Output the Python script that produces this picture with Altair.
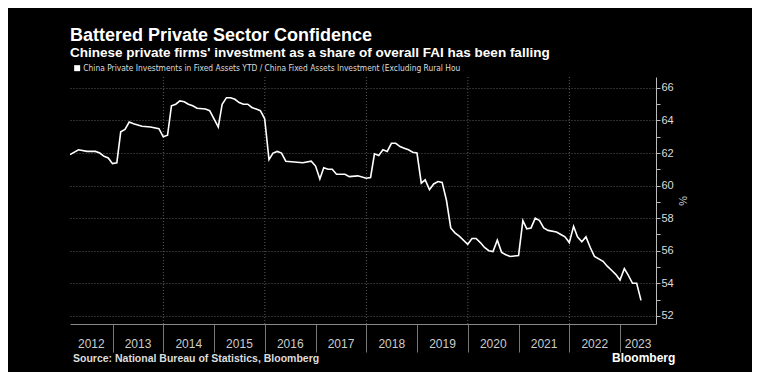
import altair as alt
import pandas as pd

# ---------------- data ----------------
months = [
    "2012-02", "2012-04", "2012-06", "2012-08", "2012-09", "2012-10", "2012-11", "2012-12",
    "2013-01", "2013-02", "2013-03", "2013-04", "2013-05", "2013-07", "2013-09", "2013-11", "2013-12",
    "2014-01", "2014-02", "2014-03", "2014-04", "2014-05", "2014-06", "2014-07", "2014-08", "2014-10", "2014-11",
    "2015-01", "2015-02", "2015-03", "2015-04", "2015-05", "2015-06", "2015-07", "2015-08", "2015-09", "2015-10", "2015-11", "2015-12",
    "2016-01", "2016-02", "2016-03", "2016-04", "2016-05", "2016-07", "2016-09", "2016-11", "2016-12",
    "2017-01", "2017-02", "2017-03", "2017-04", "2017-05", "2017-07", "2017-08", "2017-10", "2017-12",
    "2018-01", "2018-02", "2018-03", "2018-04", "2018-05", "2018-06", "2018-07", "2018-08", "2018-09", "2018-10", "2018-11", "2018-12",
    "2019-01", "2019-02", "2019-03", "2019-04", "2019-05", "2019-06", "2019-07", "2019-08", "2019-09", "2019-10", "2019-12",
    "2020-01", "2020-02", "2020-03", "2020-04", "2020-05", "2020-06", "2020-07", "2020-08", "2020-09", "2020-10", "2020-12",
    "2021-01", "2021-02", "2021-03", "2021-04", "2021-05", "2021-06", "2021-07", "2021-09", "2021-10", "2021-11", "2021-12",
    "2022-01", "2022-02", "2022-03", "2022-04", "2022-05", "2022-06", "2022-08", "2022-09", "2022-10", "2022-11", "2022-12",
    "2023-01", "2023-02", "2023-03", "2023-04", "2023-05",
]
share = [
    61.9, 62.2, 62.1, 62.1, 62.0, 61.8, 61.7, 61.35,
    61.4, 63.3, 63.45, 63.9, 63.8, 63.65, 63.6, 63.5, 63.0,
    63.1, 64.9, 65.0, 65.2, 65.15, 65.0, 64.9, 64.75, 64.7, 64.6,
    63.6, 65.0, 65.4, 65.4, 65.3, 65.1, 65.0, 65.0, 64.8, 64.7, 64.6, 64.1,
    61.6, 62.0, 62.1, 62.0, 61.5, 61.45, 61.4, 61.5, 61.2,
    60.4, 61.1, 61.0, 61.0, 60.7, 60.7, 60.55, 60.6, 60.45,
    60.5, 61.95, 61.85, 62.2, 62.1, 62.6, 62.6, 62.4, 62.3, 62.2, 62.05, 62.0,
    60.15, 60.35, 59.75, 60.1, 60.25, 60.2, 59.1, 57.4, 57.1, 56.9, 56.4,
    56.75, 56.75, 56.5, 56.2, 56.0, 55.95, 56.65, 55.9, 55.75, 55.65, 55.7,
    57.85, 57.35, 57.4, 58.0, 57.85, 57.4, 57.25, 57.15, 57.0, 56.85, 56.5,
    57.5, 56.85, 56.55, 56.85, 56.2, 55.65, 55.35, 55.05, 54.8, 54.55, 54.2,
    54.9, 54.5, 54.0, 54.0, 52.95,
]
series_label = ("China Private Investments in Fixed Assets YTD / China Fixed Assets "
                "Investment (Excluding Rural Hou")
years = list(range(2012, 2024))
grid_years = [2014, 2016, 2018, 2020, 2022]
y_ticks = list(range(52, 67))

TITLE = "Battered Private Sector Confidence"
SUBTITLE = "Chinese private firms' investment as a share of overall FAI has been falling"
SOURCE = "Source: National Bureau of Statistics, Bloomberg"
BRAND = "Bloomberg"

x_start = pd.Timestamp("2012-02-29")
x_end = pd.Timestamp("2023-09-16")

# ---------------- tables ----------------
df = pd.DataFrame({"month": months, "share": share})
df["date"] = pd.to_datetime(df["month"]) + pd.offsets.MonthEnd(0)
df["series"] = series_label
df = df[["date", "share", "series"]]

lab_rows = []
for y in years:
    s = max(pd.Timestamp(f"{y}-01-01"), x_start)
    e = min(pd.Timestamp(f"{y + 1}-01-01"), x_end)
    lab_rows.append({"date": s + (e - s) / 2, "label": str(y)})
df_years = pd.DataFrame(lab_rows)
df_grid = pd.DataFrame({"date": [pd.Timestamp(f"{y}-01-01") for y in grid_years]})

W, H = 586, 247
FONT = "Liberation Sans"

x_scale = alt.Scale(domain=[alt.DateTime(year=2012, month=2, date=29),
                            alt.DateTime(year=2023, month=9, date=16)])
y_scale = alt.Scale(domain=[51.5, 66.67], nice=False, zero=False)

x_axis = alt.Axis(
    values=[alt.DateTime(year=y, month=1, date=1) for y in range(2013, 2024)],
    labels=False, tickSize=28, tickColor="#777", tickWidth=1,
    domainColor="#888", domainWidth=1, grid=False, title=None, orient="bottom",
)
y_axis = alt.Axis(
    orient="right", values=y_ticks,
    labelExpr="datum.value % 2 === 0 ? datum.label : ''",
    tickSize=4, tickColor="#bbb", domainColor="#bbb",
    labelColor="#ddd", labelFontSize=11, labelFont=FONT, labelPadding=1,
    grid=True, gridColor="#5a5a5a", gridDash=[1, 2],
    gridOpacity={"condition": {"test": "datum.value % 2 === 0", "value": 1}, "value": 0},
    title="%", titleAngle=90, titleColor="#ccc", titleFontSize=11,
    titleFontWeight="normal", titleFont=FONT, titlePadding=3,
)

grid = alt.Chart(df_grid).mark_rule(color="#5a5a5a", strokeDash=[1, 2], strokeWidth=1).encode(
    x=alt.X("date:T", scale=x_scale, axis=x_axis)
)

line = alt.Chart(df).mark_line(strokeWidth=1.6, clip=True).encode(
    x=alt.X("date:T", scale=x_scale, axis=x_axis),
    y=alt.Y("share:Q", scale=y_scale, axis=y_axis),
    color=alt.Color(
        "series:N",
        scale=alt.Scale(range=["#ffffff"]),
        legend=alt.Legend(
            orient="none", legendX=3, legendY=-13, title=None,
            symbolType="square", symbolSize=36, symbolFillColor="#ffffff",
            symbolStrokeColor="#ffffff", symbolStrokeWidth=0,
            labelColor="#dddddd", labelFont="DejaVu Sans Condensed",
            labelFontSize=8.35, labelLimit=0, labelOffset=2, padding=0,
        ),
    ),
)

year_labels = alt.Chart(df_years).mark_text(
    color="#cccccc", fontSize=12, font=FONT, baseline="middle", align="center"
).encode(
    x=alt.X("date:T", scale=x_scale),
    y=alt.value(267),
    text="label:N",
)

source = alt.Chart(pd.DataFrame({"t": [SOURCE]})).mark_text(
    color="#dddddd", fontSize=10.5, font=FONT, fontWeight="bold", align="left",
    baseline="alphabetic",
).encode(x=alt.value(3), y=alt.value(285), text="t:N")

brand = alt.Chart(pd.DataFrame({"t": [BRAND]})).mark_text(
    color="#ffffff", fontSize=12, font=FONT, fontWeight="bold", align="left",
    baseline="alphabetic",
).encode(x=alt.value(542), y=alt.value(285), text="t:N")

chart = alt.layer(grid, line, year_labels, source, brand).properties(
    width=W, height=H,
    title=alt.TitleParams(
        text=TITLE, subtitle=SUBTITLE, anchor="start", frame="group",
        font=FONT, fontSize=18, fontWeight="bold", color="#ffffff",
        subtitleFont=FONT, subtitleFontSize=13.5, subtitleFontWeight="bold",
        subtitleColor="#ffffff", subtitlePadding=1, offset=5,
    ),
    autosize=alt.AutoSizeParams(type="none"),
    padding={"left": 62, "top": 69, "right": 96, "bottom": 48},
    background="#000000",
).configure_view(stroke=None)

chart.save("out.html", embed_options={"renderer": "svg", "actions": False})
